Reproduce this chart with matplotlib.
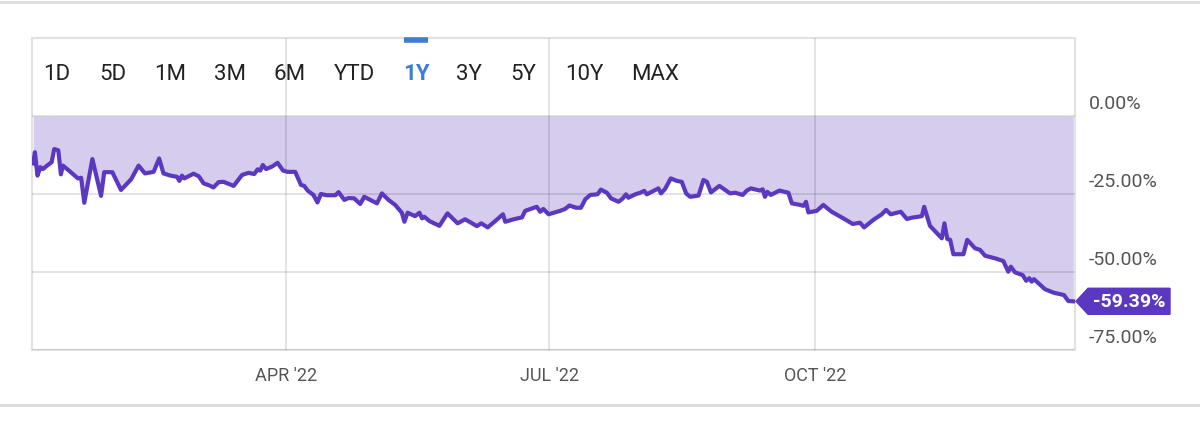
import numpy as np
import pandas as pd
import matplotlib
matplotlib.use("Agg")
import matplotlib.pyplot as plt
import matplotlib.dates as mdates
import matplotlib.transforms as mtransforms
from matplotlib.patches import Polygon
from matplotlib.lines import Line2D

plt.rcParams['font.family'] = ['Roboto', 'DejaVu Sans']

# day of year 2022 and total return (%)
day = [3.4, 4.0, 4.9, 5.9, 6.8, 8.2, 9.8, 10.7, 12.1, 13.0, 13.7, 16.3, 18.9, 20.0,
       21.1, 23.9, 26.9, 28.0, 30.8, 33.8, 37.3, 39.9, 42.1, 45.1, 47.0, 48.5, 50.9,
       53.2, 54.0, 54.9, 55.7, 58.9, 60.7, 62.4, 64.5, 65.8, 67.6, 69.3, 72.8, 75.7,
       78.0, 79.9, 81.1, 82.0, 82.9, 84.0, 86.1, 88.0, 89.9, 91.4, 94.1, 96.1, 97.2,
       98.4, 100.4, 101.8, 103.0, 105.1, 108.0, 109.1, 111.1, 112.6, 114.5, 116.6,
       118.0, 120.1, 122.4, 124.1, 126.4, 128.7, 131.0, 131.9, 133.0, 135.6, 137.1,
       138.0, 138.8, 140.6, 144.0, 146.8, 150.3, 152.9, 157.0, 158.5, 160.7, 163.3,
       166.0, 166.8, 169.7, 172.6, 173.7, 177.7, 178.9, 180.0, 181.8, 185.8, 187.5,
       189.0, 191.3, 193.0, 194.5, 196.2, 198.7, 199.9, 202.0, 203.4, 206.0, 207.5,
       208.6, 209.4, 211.8, 213.5, 214.9, 215.8, 219.8, 220.7, 222.1, 224.1, 226.2,
       227.9, 229.4, 230.8, 233.7, 235.4, 236.6, 238.0, 240.9, 244.6, 246.4, 249.0,
       250.4, 251.8, 255.0, 255.9, 256.7, 257.5, 258.7, 261.7, 264.8, 266.0, 268.9,
       270.0, 270.9, 271.7, 274.6, 276.9, 278.3, 279.8, 283.8, 287.1, 289.6, 291.0,
       294.2, 297.1, 298.6, 300.2, 303.7, 305.8, 307.5, 311.0, 311.8, 313.8, 317.9,
       318.8, 319.8, 320.8, 321.9, 325.4, 326.7, 329.4, 331.1, 332.9, 336.3, 339.2,
       340.9, 341.8, 343.2, 345.9, 347.1, 348.2, 349.0, 349.8, 353.6, 356.5, 360.2,
       361.7, 363.4]
ret = [-15.2, -11.6, -19.1, -16.4, -17.0, -15.9, -14.8, -10.6, -11.0, -18.7, -15.9,
       -17.9, -20.0, -19.8, -27.8, -13.8, -25.6, -18.0, -18.0, -23.7, -20.3, -15.9,
       -18.4, -17.9, -13.6, -18.4, -19.1, -19.5, -20.8, -19.1, -20.0, -18.5, -19.3,
       -21.6, -22.3, -22.9, -21.2, -21.1, -22.4, -18.9, -18.2, -18.6, -17.1, -17.5,
       -15.7, -17.0, -16.2, -15.0, -17.5, -17.9, -17.9, -22.1, -22.4, -23.9, -25.3,
       -27.7, -25.0, -25.4, -25.4, -24.4, -26.9, -26.3, -26.4, -28.2, -25.9, -26.9,
       -28.0, -24.8, -26.9, -28.5, -31.0, -33.9, -31.0, -32.1, -31.0, -32.8, -32.3,
       -33.7, -35.2, -31.2, -34.4, -33.1, -35.3, -34.4, -35.7, -33.7, -31.5, -33.9,
       -33.1, -32.5, -30.4, -29.1, -30.7, -29.8, -31.5, -30.4, -29.8, -28.7, -29.4,
       -29.4, -26.7, -25.3, -25.1, -23.6, -24.6, -26.4, -27.5, -26.4, -25.1, -26.2,
       -25.1, -24.6, -24.0, -25.1, -23.2, -24.8, -23.4, -20.0, -20.8, -21.1, -24.8,
       -25.9, -25.5, -20.5, -21.1, -24.5, -22.4, -24.8, -24.6, -25.3, -23.9, -23.2,
       -23.9, -23.5, -25.9, -24.3, -25.3, -23.9, -24.6, -28.0, -28.5, -28.8, -27.5,
       -30.9, -30.4, -28.5, -29.6, -30.7, -32.8, -34.6, -34.2, -35.7, -33.3, -31.5,
       -30.1, -31.5, -30.7, -33.0, -32.6, -32.1, -29.1, -35.2, -39.2, -34.4, -39.4,
       -39.7, -44.3, -44.3, -39.7, -42.4, -42.9, -44.8, -45.6, -46.5, -49.9, -48.3,
       -50.1, -51.0, -52.8, -52.0, -53.1, -52.3, -55.5, -56.6, -57.4, -59.3, -59.39]

yticks = [0, -25, -50, -75]
ytick_labels = ['0.00%', '-25.00%', '-50.00%', '-75.00%']
xtick_dates = ['2022-04-01', '2022-07-01', '2022-10-01']
xtick_labels = ["APR '22", "JUL '22", "OCT '22"]
buttons = ['1D', '5D', '1M', '3M', '6M', 'YTD', '1Y', '3Y', '5Y', '10Y', 'MAX']
button_x = [57, 113, 170, 230, 290, 354, 416, 469, 523, 584, 655]
active = '1Y'

line_c = '#5b38c2'
fill_c = '#d6ccee'
grid_c = '#e2e2e2'
text_c = '#555555'

dates = pd.Timestamp('2022-01-01') + pd.to_timedelta(np.array(day) - 1, unit='D')
ret = np.array(ret)

fig = plt.figure(figsize=(12, 4.22), dpi=100)
ax = fig.add_axes([32/1200, 1 - 350/422, (1075 - 32)/1200, (350 - 38)/422])

ax.fill_between(dates, ret, 0, color=fill_c, lw=0, zorder=1)
ax.plot(dates, ret, color=line_c, lw=3.0, solid_joinstyle='round', zorder=3)

x0 = pd.Timestamp('2022-01-03')
x1 = pd.Timestamp('2022-12-30')
ax.set_xlim(x0, x1)
ax.set_ylim(-75, 25)

ax.set_yticks(yticks)
ax.set_yticklabels(ytick_labels)
ax.yaxis.tick_right()
ax.tick_params(axis='y', length=0, pad=10, labelsize=14, labelcolor=text_c)
for lab in ax.get_yticklabels():
    lab.set_verticalalignment('bottom')
    lab.set_transform(lab.get_transform() + mtransforms.ScaledTranslation(0, 3/100, fig.dpi_scale_trans))

ax.set_xticks(pd.to_datetime(xtick_dates))
ax.set_xticklabels(xtick_labels)
ax.tick_params(axis='x', length=0, pad=12, labelsize=13, labelcolor=text_c)

ax.grid(True, color='black', alpha=0.11, lw=1.4, zorder=2)
ax.set_axisbelow(False)
for s in ax.spines.values():
    s.set_color(grid_c)
    s.set_linewidth(1.5)

# range buttons
for b, bx in zip(buttons, button_x):
    is_on = b == active
    fig.text(bx/1200, 1 - 74/422, b, ha='center', va='center', fontsize=16,
             color='#3b7dd8' if is_on else '#222222',
             fontweight='bold' if is_on else 'normal')
fig.add_artist(Line2D([404/1200, 428/1200], [1 - 40/422, 1 - 40/422],
                      color='#3b7dd8', lw=4, solid_capstyle='butt'))

# page separators
fig.add_artist(Line2D([0, 1], [1 - 2/422, 1 - 2/422], color='#dddddd', lw=2))
fig.add_artist(Line2D([0, 1], [1 - 405/422, 1 - 405/422], color='#d9d9d9', lw=2))

# last value flag
ax_x = mdates.date2num(x1)
trans = fig.dpi_scale_trans + mtransforms.ScaledTranslation(ax_x, ret[-1], ax.transData)
flag = Polygon([(0.01, 0), (0.13, 0.13), (0.95, 0.13), (0.95, -0.13), (0.13, -0.13)],
               closed=True, transform=trans, color=line_c, clip_on=False, zorder=5)
ax.add_patch(flag)
ax.text(0.54, -0.005, '%.2f%%' % ret[-1], transform=trans, ha='center', va='center',
        color='white', fontsize=14, fontweight='bold', clip_on=False, zorder=6)

fig.savefig('out.png', dpi=100, facecolor='white')
